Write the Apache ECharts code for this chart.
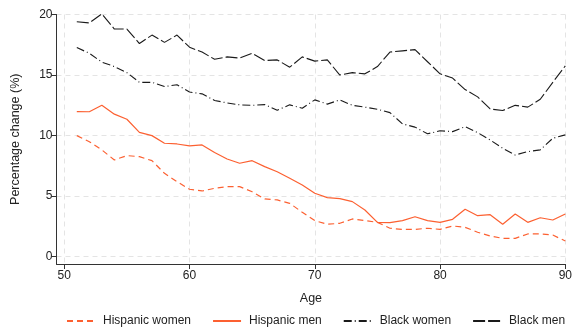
<!DOCTYPE html>
<html>
<head>
<meta charset="utf-8">
<script src="https://cdn.jsdelivr.net/npm/echarts@6/dist/echarts.min.js"></script>
<style>
html,body{margin:0;padding:0;background:#fff;}
#chart{width:575px;height:332px;}
</style>
</head>
<body>
<div id="chart"></div>
<script>
const ages = [51,52,53,54,55,56,57,58,59,60,61,62,63,64,65,66,67,68,69,70,71,72,73,74,75,76,77,78,79,80,81,82,83,84,85,86,87,88,89,90];
const hispanicWomen = [10.0,9.5,8.82,7.99,8.35,8.26,7.93,6.89,6.2,5.57, 5.43,5.65,5.79,5.79,5.37,4.77,4.69,4.41,3.67,2.98, 2.68,2.76,3.12,2.98,2.84,2.35,2.26,2.26,2.35,2.26, 2.54,2.43,2.02,1.71,1.52,1.52,1.88,1.88,1.79,1.30];
const hispanicMen = [11.98,11.97,12.5,11.77,11.35,10.27,10.0,9.37,9.31,9.15, 9.23,8.6,8.07,7.72,7.93,7.44,7.02,6.48,5.93,5.24, 4.88,4.8,4.55,3.86,2.84,2.81,2.98,3.3,2.98,2.84, 3.09,3.92,3.39,3.47,2.68,3.53,2.84,3.22,3.03,3.53];
const blackWomen = [17.27,16.8,16.07,15.7,15.2,14.4,14.4,14.05,14.2,13.6, 13.45,12.9,12.7,12.54,12.5,12.56,12.1,12.54,12.26,12.95, 12.6,12.95,12.5,12.35,12.18,11.9,10.97,10.7,10.15,10.4, 10.33,10.74,10.25,9.64,8.96,8.4,8.68,8.82,9.78,10.06];
const blackMen = [19.4,19.3,20.05,18.8,18.8,17.6,18.3,17.7,18.3,17.3, 16.9,16.3,16.5,16.4,16.8,16.2,16.25,15.65,16.5,16.15, 16.25,15.0,15.2,15.1,15.7,16.9,17.0,17.1,16.1,15.1, 14.75,13.8,13.2,12.2,12.07,12.5,12.35,13.0,14.4,15.76];
const xTicks = [50,60,70,80,90];
const yTicks = [0,5,10,15,20];

const orange = '#fc6031';
const dark = '#1a1a1a';
const font = 'Liberation Sans, Arial, Helvetica, sans-serif';

function pairs(vals){ return ages.map((a,i)=>[a, vals[i]]); }

const chart = echarts.init(document.getElementById('chart'), null, {renderer:'canvas'});
chart.setOption({
  animation:false,
  backgroundColor:'#fff',
  textStyle:{fontFamily:font},
  grid:{left:56.5, right:5.7, top:14.5, bottom:68, containLabel:false},
  xAxis:{
    type:'value', min:49.38, max:90,
    name:'Age', nameLocation:'middle', nameGap:28,
    nameTextStyle:{fontSize:12.5, color:'#222', fontFamily:font},
    axisLine:{show:true, onZero:false, lineStyle:{color:'#333', width:1}},
    axisTick:{show:true, length:5, customValues:xTicks, lineStyle:{color:'#333'}},
    axisLabel:{show:true, customValues:xTicks, margin:6, fontSize:12, color:'#222', fontFamily:font},
    splitLine:{show:true, lineStyle:{color:'#e4e4e4', type:[5,4], width:1}}
  },
  yAxis:{
    type:'value', min:-0.6, max:20.0,
    name:'Percentage change (%)', nameLocation:'middle', nameGap:34,
    nameTextStyle:{fontSize:12.5, color:'#222', fontFamily:font},
    axisLine:{show:true, onZero:false, lineStyle:{color:'#333', width:1}},
    axisTick:{show:true, length:5, customValues:yTicks, lineStyle:{color:'#333'}},
    axisLabel:{show:true, customValues:yTicks, margin:4, fontSize:12, color:'#222', fontFamily:font},
    splitLine:{show:true, lineStyle:{color:'#e4e4e4', type:[5,4], width:1}}
  },
  legend:{
    show:true, top:315, left:66, width:509, padding:0, itemWidth:28, itemHeight:12, itemGap:21,
    itemStyle:{color:'rgba(0,0,0,0)', borderColor:'rgba(0,0,0,0)', borderWidth:0, opacity:0},
    textStyle:{fontSize:12, color:'#222', fontFamily:font, padding:[0,0,0,3]},
    data:['Hispanic women','Hispanic men','Black women','Black men']
  },
  series:[
    {name:'Hispanic women', type:'line', data:pairs(hispanicWomen), symbol:'none', smooth:false,
     lineStyle:{color:orange, width:1.2, type:[6,4]}, itemStyle:{color:orange}},
    {name:'Hispanic men', type:'line', data:pairs(hispanicMen), symbol:'none', smooth:false,
     lineStyle:{color:orange, width:1.2, type:'solid'}, itemStyle:{color:orange}},
    {name:'Black women', type:'line', data:pairs(blackWomen), symbol:'none', smooth:false,
     lineStyle:{color:dark, width:1.1, type:[8,3,1,3]}, itemStyle:{color:dark}},
    {name:'Black men', type:'line', data:pairs(blackMen), symbol:'none', smooth:false,
     lineStyle:{color:dark, width:1.1, type:[12,3]}, itemStyle:{color:dark}}
  ]
});
</script>
</body>
</html>
